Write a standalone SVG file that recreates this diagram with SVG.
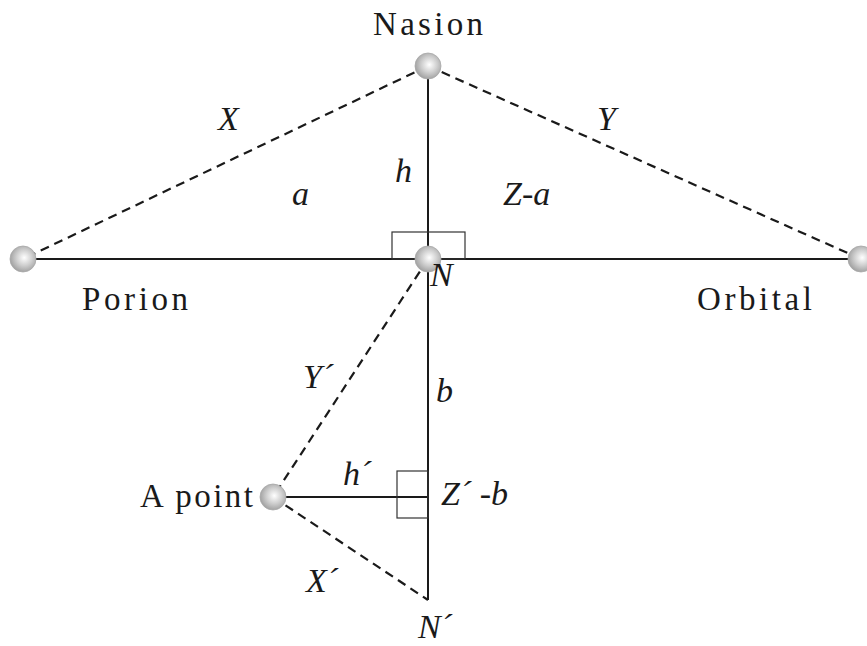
<svg xmlns="http://www.w3.org/2000/svg" width="867" height="646" viewBox="0 0 867 646">
<defs>
<radialGradient id="ball" cx="0.55" cy="0.45" r="0.6">
<stop offset="0" stop-color="#ffffff"/>
<stop offset="0.5" stop-color="#cfcfcf"/>
<stop offset="1" stop-color="#9a9a9a"/>
</radialGradient>
<style>
.solid{stroke:#1a1a1a;stroke-width:2;fill:none}
.thin{stroke:#333;stroke-width:1.2;fill:none}
.dash{stroke:#1a1a1a;stroke-width:2.2;fill:none;stroke-dasharray:9 6}
.ball{fill:url(#ball);stroke:#a8a8a8;stroke-width:0.8}
text{font-family:Liberation Serif, DejaVu Serif, serif}
</style>
</defs>
<rect width="867" height="646" fill="#ffffff"/>
<g id="connectors">
<line class="solid" x1="23" y1="259" x2="861" y2="259"/>
<line class="solid" x1="428" y1="66" x2="428" y2="600"/>
<line class="solid" x1="273" y1="497" x2="428" y2="497"/>
<line class="dash" x1="428" y1="66" x2="23" y2="259"/>
<line class="dash" x1="428" y1="66" x2="861" y2="259"/>
<line class="dash" x1="428" y1="259" x2="273" y2="497"/>
<line class="dash" x1="273" y1="497" x2="428" y2="600"/>
<rect class="thin" x="392" y="232" width="73" height="27"/>
<rect class="thin" x="397" y="471" width="31" height="47"/>
</g>
<g fill="#1a1a1a" font-size="33">
<g id="nasion"><circle class="ball" cx="428" cy="66" r="13"/><text x="428" y="35" text-anchor="middle" textLength="110" lengthAdjust="spacing">Nasion</text></g>
<g id="porion"><circle class="ball" cx="23" cy="259" r="13"/><text x="82" y="310" textLength="106" lengthAdjust="spacing">Porion</text></g>
<g id="orbital"><circle class="ball" cx="861" cy="259" r="13"/><text x="697" y="310" textLength="115" lengthAdjust="spacing">Orbital</text></g>
<g id="n"><circle class="ball" cx="428" cy="259" r="13"/><text x="430" y="286" font-style="italic" font-size="34">N</text></g>
<g id="apoint"><circle class="ball" cx="273" cy="497" r="13"/><text x="140" y="507" textLength="113" lengthAdjust="spacing">A point</text></g>
<g id="nprime"><text x="418" y="638" font-style="italic" font-size="34">N´</text></g>
<g id="labels" font-style="italic" font-size="34">
<text x="218" y="130">X</text>
<text x="597" y="130">Y</text>
<text x="395" y="182">h</text>
<text x="292" y="205">a</text>
<text x="503" y="205">Z-a</text>
<text x="303" y="388">Y´</text>
<text x="436" y="402">b</text>
<text x="343" y="485">h´</text>
<text x="441" y="505" xml:space="preserve">Z´ -b</text>
<text x="306" y="592">X´</text>
</g>
</g>
</svg>
